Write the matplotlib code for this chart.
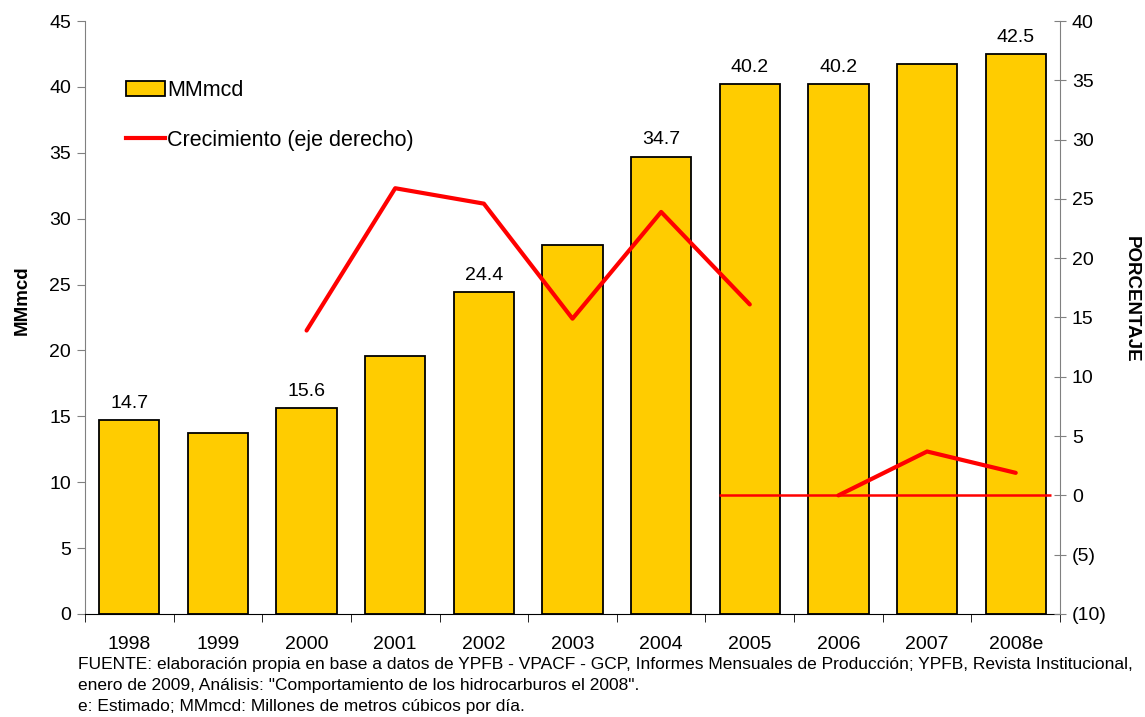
import numpy as np
import matplotlib.pyplot as plt
from matplotlib.ticker import FuncFormatter, FixedLocator
from matplotlib.patches import Patch
from matplotlib.lines import Line2D

plt.rcParams['font.family'] = ['Liberation Sans', 'DejaVu Sans']

# produccion de gas (MMmcd) y crecimiento anual (%)
years = ['1998', '1999', '2000', '2001', '2002', '2003', '2004', '2005', '2006', '2007', '2008e']
mmmcd = [14.7, 13.7, 15.6, 19.6, 24.4, 28.0, 34.7, 40.2, 40.2, 41.7, 42.5]
growth_a = [13.9, 25.9, 24.6, 14.9, 23.9, 16.1]   # 2000-2005
growth_b = [0.0, 3.7, 1.9]                        # 2006-2008e
labeled = ['1998', '2000', '2002', '2004', '2005', '2006', '2008e']

x = np.arange(len(years))

fig = plt.figure(figsize=(11.45, 7.17), dpi=100)
ax = fig.add_axes([0.0742, 0.1437, 0.8516, 0.827])
ax2 = ax.twinx()

bars = ax.bar(x, mmmcd, width=0.68, color='#FFCC00', edgecolor='black', linewidth=1.3, zorder=2)
for xi, yr, v in zip(x, years, mmmcd):
    if yr in labeled:
        ax.annotate(f'{v:.1f}', (xi, v), xytext=(0, 6), textcoords='offset points',
                    ha='center', va='bottom', fontsize=14)

ax.set_xlim(-0.5, len(years) - 0.5)
ax.set_ylim(0, 45)
ax.set_yticks(np.arange(0, 46, 5))
ax.set_xticks(x)
ax.set_xticklabels(years)
ax.xaxis.set_minor_locator(FixedLocator(np.arange(-0.5, len(years), 1)))
ax.tick_params(axis='x', which='major', length=0, pad=16, labelsize=14)
ax.tick_params(axis='x', which='minor', length=6, direction='out', color='black')
ax.tick_params(axis='y', length=6, direction='out', color='#808080', labelsize=14, pad=4)
ax.set_ylabel('MMmcd', fontsize=13.5, fontweight='bold', va='center')
ax.yaxis.set_label_coords(-0.0646, 0.53)

ax.spines['top'].set_visible(False)
ax.spines['left'].set_color('#808080')
ax.spines['right'].set_visible(False)
ax.spines['bottom'].set_color('black')

# eje derecho: crecimiento
ax2.plot(x[2:8], growth_a, color='red', linewidth=3, solid_capstyle='round', zorder=4)
ax2.plot(x[8:], growth_b, color='red', linewidth=3, solid_capstyle='round', zorder=4)
ax2.hlines(0, 6.65, 10.4, color='red', linewidth=1.8, zorder=3)
ax2.set_ylim(-10, 40)
ax2.set_yticks(np.arange(-10, 41, 5))
ax2.yaxis.set_major_formatter(FuncFormatter(lambda v, p: f'({abs(int(v))})' if v < 0 else f'{int(v)}'))
ax2.tick_params(axis='y', length=9, direction='inout', color='#808080', labelsize=14, pad=4)
ax2.set_ylabel('PORCENTAJE', fontsize=13.5, fontweight='bold', rotation=270, va='center')
ax2.yaxis.set_label_coords(1.0728, 0.53)
for s in ['top', 'left', 'bottom']:
    ax2.spines[s].set_visible(False)
ax2.spines['right'].set_color('#808080')

handles = [Patch(facecolor='#FFCC00', edgecolor='black', linewidth=1.3),
           Line2D([0], [0], color='red', linewidth=3)]
fig.legend(handles, ['MMmcd', 'Crecimiento (eje derecho)'], loc='upper left',
           bbox_to_anchor=(0.093, 0.9156), frameon=False, fontsize=15.5,
           handlelength=1.8, handleheight=0.7, handletextpad=0.12, labelspacing=1.33)

notes = ['FUENTE: elaboración propia en base a datos de YPFB - VPACF - GCP, Informes Mensuales de Producción; YPFB, Revista Institucional,',
         'enero de 2009, Análisis: "Comportamiento de los hidrocarburos el 2008".',
         'e: Estimado; MMmcd: Millones de metros cúbicos por día.']
for i, t in enumerate(notes):
    fig.text(0.068, 1 - (664 + i * 21.5) / 717, t, fontsize=12.5, va='center', ha='left')

fig.savefig('out.png', dpi=100)
